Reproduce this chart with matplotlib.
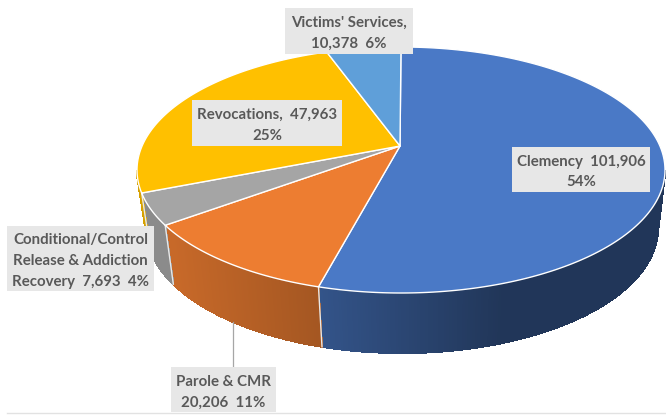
"""Perspective 3D pie of case counts, drawn from the slice values."""
import numpy as np
import matplotlib
matplotlib.use("Agg")
import matplotlib.pyplot as plt
from matplotlib.colors import to_rgb
from matplotlib.patches import Polygon, Rectangle

# ── Data ────────────────────────────────────────────────────────────────────
CATEGORIES = ["Clemency", "Parole & CMR", "Conditional/Control", "Revocations", "Victims' Services"]
VALUES = [101906, 20206, 7693, 47963, 10378]
COLORS = ["#4A79C6", "#ED7D31", "#A5A5A5", "#FFC000", "#5F9FD9"]
LABELS = [
    "Clemency  101,906\n54%",
    "Parole & CMR\n20,206  11%",
    "Conditional/Control\nRelease & Addiction\nRecovery  7,693  4%",
    "Revocations,  47,963\n25%",
    "Victims' Services,\n10,378  6%",
]

# ── Config (pixels of the 666x415 canvas) ───────────────────────────────────
LABEL_BOXES = [(512, 147, 138, 45), (171, 367, 105, 45), (7, 226, 147, 65),
               (192, 100, 150, 46), (285, 8, 128, 46)]
TOP = dict(cx=401, cy=170, rx=264, ry=123)
BOTTOM = dict(cx=402, cy=228, rx=256, ry=125)
APEX = (400, 146)
SHADE_X = [170, 320, 500]
SHADE_F = [0.84, 0.69, 0.45]
TEXT_COLOR = "#595959"
BOX_COLOR = "#E7E7E7"
FONT_SIZE = 10.8
TEXT_DROP = 2.5

# perspective squeeze: the pie centre sits above the middle of the ellipse
h = (TOP["cy"] - APEX[1]) / TOP["ry"]
SQUEEZE = np.sqrt((1 - h) / (1 + h))


def warp(theta):
    """True pie angle (clockwise from 12 o'clock, radians) to ellipse parameter."""
    half = np.asarray(theta) / 2
    return 2 * np.arctan2(SQUEEZE * np.sin(half), np.cos(half))


def rim(phi, e):
    return e["cx"] + e["rx"] * np.sin(phi), e["cy"] - e["ry"] * np.cos(phi)


def unwrap_phi(theta):
    return np.unwrap(warp(theta))


fig = plt.figure(figsize=(6.66, 4.15), dpi=100)
ax = fig.add_axes([0, 0, 1, 1])
ax.set_xlim(0, 666)
ax.set_ylim(415, 0)
ax.axis("off")

edges = np.concatenate([[0], np.cumsum(VALUES)]) / sum(VALUES) * 2 * np.pi

# ── Side wall (front half only), shaded left to right ──────────────────────
for i, color in enumerate(COLORS):
    thetas = np.linspace(edges[i], edges[i + 1], 400)
    phis = unwrap_phi(thetas)
    phis = phis[(phis >= np.pi / 2) & (phis <= 3 * np.pi / 2)]
    if len(phis) < 2:
        continue
    base = np.array(to_rgb(color))
    for p0, p1 in zip(phis[:-1], phis[1:]):
        x0, y0 = rim(p0, TOP)
        x1, y1 = rim(p1, TOP)
        x2, y2 = rim(p1, BOTTOM)
        x3, y3 = rim(p0, BOTTOM)
        f = np.interp((x0 + x1) / 2, SHADE_X, SHADE_F)
        # no antialiasing between strips, it leaves pale stripes otherwise
        ax.add_patch(Polygon([(x0, y0), (x1, y1), (x2, y2), (x3, y3)], closed=True,
                             fc=base * f, ec=base * f, lw=0.8, antialiased=False, zorder=1))
    # white seam where the slice ends on the wall
    xa, ya = rim(phis[-1], TOP)
    xb, yb = rim(phis[-1], BOTTOM)
    if phis[-1] < 3 * np.pi / 2 - 0.01:
        ax.plot([xa, xb], [ya, yb], color="#E8E8E8", lw=1.0, zorder=2)

# ── Top face ────────────────────────────────────────────────────────────────
for i, color in enumerate(COLORS):
    thetas = np.linspace(edges[i], edges[i + 1], 300)
    xs, ys = rim(unwrap_phi(thetas), TOP)
    pts = [APEX] + list(zip(xs, ys))
    ax.add_patch(Polygon(pts, closed=True, fc=color, ec="white", lw=1.0,
                         joinstyle="round", zorder=3))

# ── Leader, labels ──────────────────────────────────────────────────────────
ax.plot([233, 233], [322, 367], color="#A6A6A6", lw=0.9, zorder=4)
ax.plot([7, 666], [412.5, 412.5], color="#E2E2E2", lw=1.0, zorder=4)

for text, (x, y, w, h_box) in zip(LABELS, LABEL_BOXES):
    ax.add_patch(Rectangle((x, y), w, h_box, fc=BOX_COLOR, ec="none", zorder=5))
    ax.text(x + w / 2, y + h_box / 2 + TEXT_DROP, text, ha="center", va="center", color=TEXT_COLOR,
            family=["Lato", "DejaVu Sans"], fontweight="bold", fontsize=FONT_SIZE,
            linespacing=1.6, zorder=6)

fig.savefig("out.png", dpi=100, facecolor="white")
plt.close(fig)
